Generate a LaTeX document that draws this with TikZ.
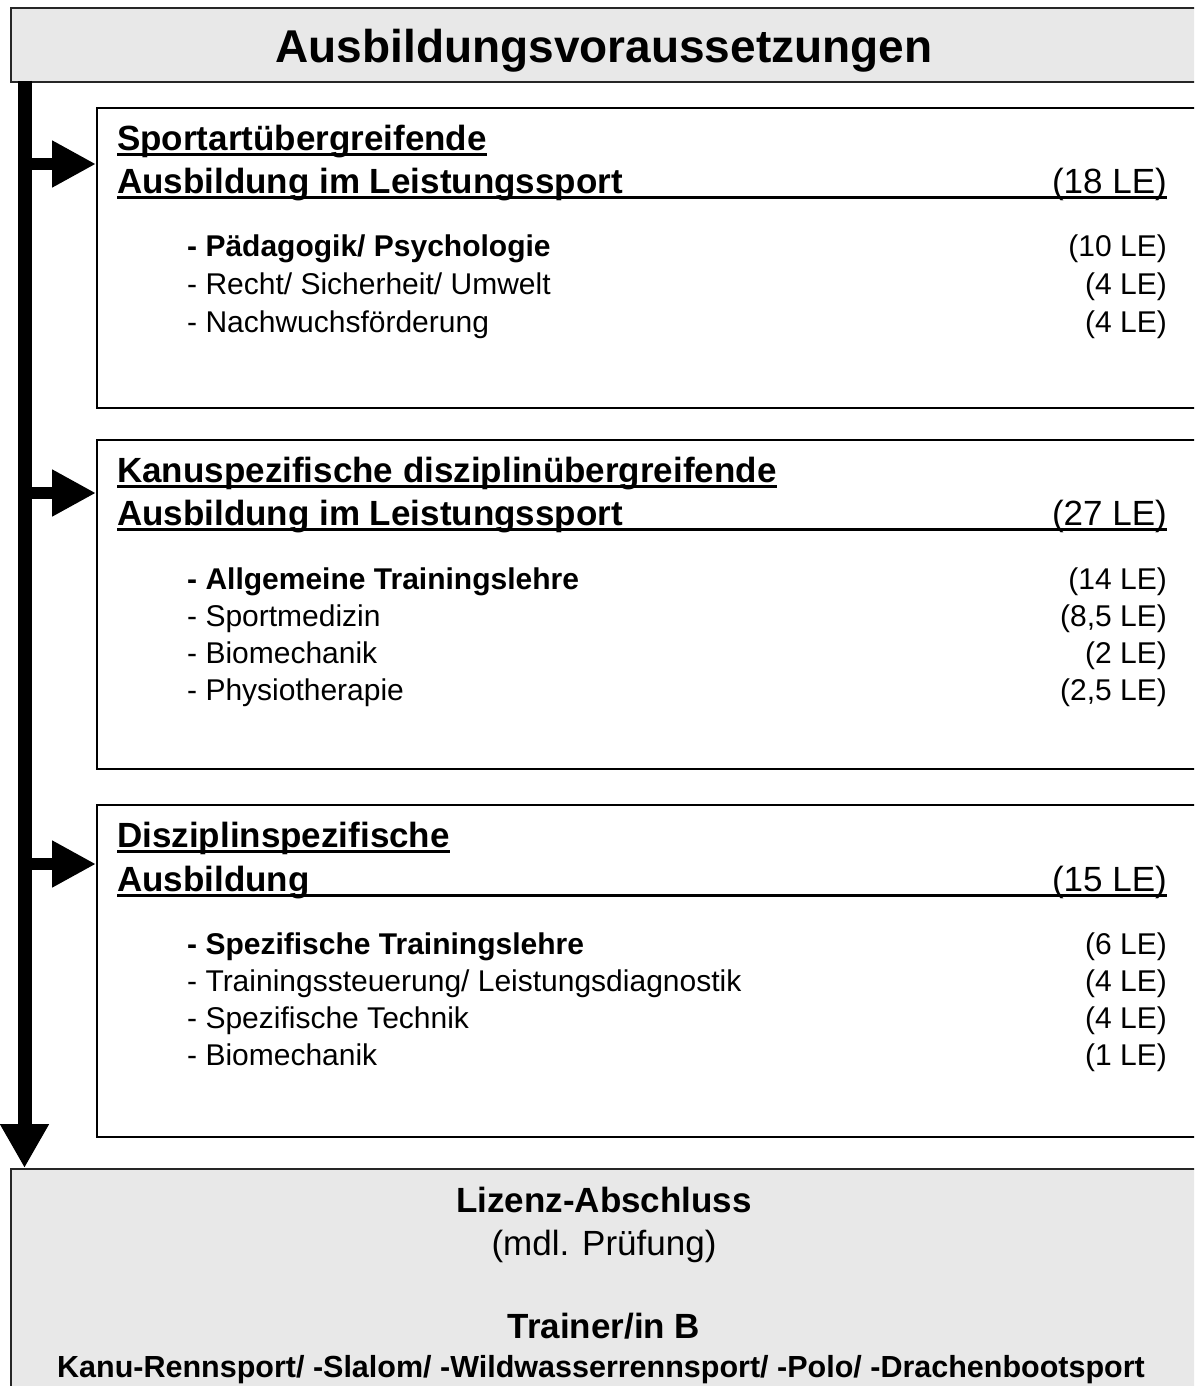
\documentclass[tikz,border=0pt]{standalone}
\usepackage{fontspec}
\setmainfont{Liberation Sans}
\usetikzlibrary{arrows.meta}
\definecolor{boxgray}{HTML}{E8E8E8}
\tikzset{
 graybox/.style={draw=black!85, line width=1.8pt, fill=boxgray, anchor=north west, inner sep=0pt},
 whitebox/.style={draw=black, line width=1.8pt, fill=white, anchor=north west, inner sep=0pt},
 txt/.style={inner sep=0pt, anchor=base west},
 val/.style={inner sep=0pt, anchor=base east},
 ctr/.style={inner sep=0pt, anchor=base},
 hfont/.style={font=\fontsize{35}{42}\selectfont\bfseries},
 hval/.style={font=\fontsize{35}{42}\selectfont},
 ifont/.style={font=\fontsize{30}{36}\selectfont},
 ibold/.style={font=\fontsize{30}{36}\selectfont\bfseries},
 ul/.style={line width=3pt},
 feed/.style={line width=12pt, -{Triangle[width=44pt,length=44pt]}},
 mainbar/.style={line width=14pt, -{Triangle[width=46pt,length=44pt]}},
}
\begin{document}
\begin{tikzpicture}[x=1pt,y=-1pt]
\useasboundingbox (0,0) rectangle (1194,1386);
\clip (0,0) rectangle (1194,1386);
% header
\node[graybox, minimum width=1250pt, minimum height=74pt] (head) at (10,7) {};
\node[ctr, font=\fontsize{46}{55}\selectfont\bfseries] (title) at (604,63) {Ausbildungsvoraussetzungen};
% boxes
\node[whitebox, minimum width=1150pt, minimum height=300pt] (b1) at (96,107) {};
\node[whitebox, minimum width=1150pt, minimum height=329pt] (b2) at (96,439) {};
\node[whitebox, minimum width=1150pt, minimum height=332pt] (b3) at (96,804) {};
\node[graybox, minimum width=1250pt, minimum height=260pt] (bot) at (10,1168) {};
% main bar
\coordinate (bartop) at (24.5,81);
\draw[mainbar] (bartop) -- (bartop |- bot.north);
% feed arrows
\coordinate (a1) at (24.5,164);
\coordinate (a2) at (24.5,493);
\coordinate (a3) at (24.5,864);
\draw[feed] (a1) -- (a1 -| b1.west);
\draw[feed] (a2) -- (a2 -| b2.west);
\draw[feed] (a3) -- (a3 -| b3.west);
% box 1
\node[txt, hfont] (h1a) at (117,150) {Sportartübergreifende};
\node[txt, hfont] (h1b) at (117,193) {Ausbildung im Leistungssport};
\node[val, hval] (v1) at (1167,193) {(18 LE)};
\draw[ul] ([yshift=-4pt]h1a.base west) -- ([yshift=-4pt]h1a.base east);
\draw[ul] ([yshift=-4pt]h1b.base west) -- ([yshift=-4pt]v1.base east);
\node[txt, ibold] (i11) at (187,256) {- Pädagogik/ Psychologie};
\node[val, ifont] (w11) at (1167,256) {(10 LE)};
\node[txt, ifont] (i12) at (187,294) {- Recht/ Sicherheit/ Umwelt};
\node[val, ifont] (w12) at (1167,294) {(4 LE)};
\node[txt, ifont] (i13) at (187,332) {- Nachwuchsförderung};
\node[val, ifont] (w13) at (1167,332) {(4 LE)};
% box 2
\node[txt, hfont] (h2a) at (117,482) {Kanuspezifische disziplinübergreifende};
\node[txt, hfont] (h2b) at (117,525) {Ausbildung im Leistungssport};
\node[val, hval] (v2) at (1167,525) {(27 LE)};
\draw[ul] ([yshift=-4pt]h2a.base west) -- ([yshift=-4pt]h2a.base east);
\draw[ul] ([yshift=-4pt]h2b.base west) -- ([yshift=-4pt]v2.base east);
\node[txt, ibold] (i21) at (187,589) {- Allgemeine Trainingslehre};
\node[val, ifont] (w21) at (1167,589) {(14 LE)};
\node[txt, ifont] (i22) at (187,626) {- Sportmedizin};
\node[val, ifont] (w22) at (1167,626) {(8,5 LE)};
\node[txt, ifont] (i23) at (187,663) {- Biomechanik};
\node[val, ifont] (w23) at (1167,663) {(2 LE)};
\node[txt, ifont] (i24) at (187,700) {- Physiotherapie};
\node[val, ifont] (w24) at (1167,700) {(2,5 LE)};
% box 3
\node[txt, hfont] (h3a) at (117,847) {Disziplinspezifische};
\node[txt, hfont] (h3b) at (117,891) {Ausbildung};
\node[val, hval] (v3) at (1167,891) {(15 LE)};
\draw[ul] ([yshift=-4pt]h3a.base west) -- ([yshift=-4pt]h3a.base east);
\draw[ul] ([yshift=-4pt]h3b.base west) -- ([yshift=-4pt]v3.base east);
\node[txt, ibold] (i31) at (187,954) {- Spezifische Trainingslehre};
\node[val, ifont] (w31) at (1167,954) {(6 LE)};
\node[txt, ifont] (i32) at (187,991) {- Trainingssteuerung/ Leistungsdiagnostik};
\node[val, ifont] (w32) at (1167,991) {(4 LE)};
\node[txt, ifont] (i33) at (187,1028) {- Spezifische Technik};
\node[val, ifont] (w33) at (1167,1028) {(4 LE)};
\node[txt, ifont] (i34) at (187,1065) {- Biomechanik};
\node[val, ifont] (w34) at (1167,1065) {(1 LE)};
% bottom box
\node[ctr, hfont] (lz) at (604,1212) {Lizenz-Abschluss};
\node[ctr, hval] (pr) at (604,1255) {(mdl. Prüfung)};
\node[ctr, hfont] (tr) at (604,1338) {Trainer/in B};
\node[ctr, font=\fontsize{30.5}{36}\selectfont\bfseries] (kn) at (601,1377) {Kanu-Rennsport/ -Slalom/ -Wildwasserrennsport/ -Polo/ -Drachenbootsport};
\end{tikzpicture}
\end{document}
